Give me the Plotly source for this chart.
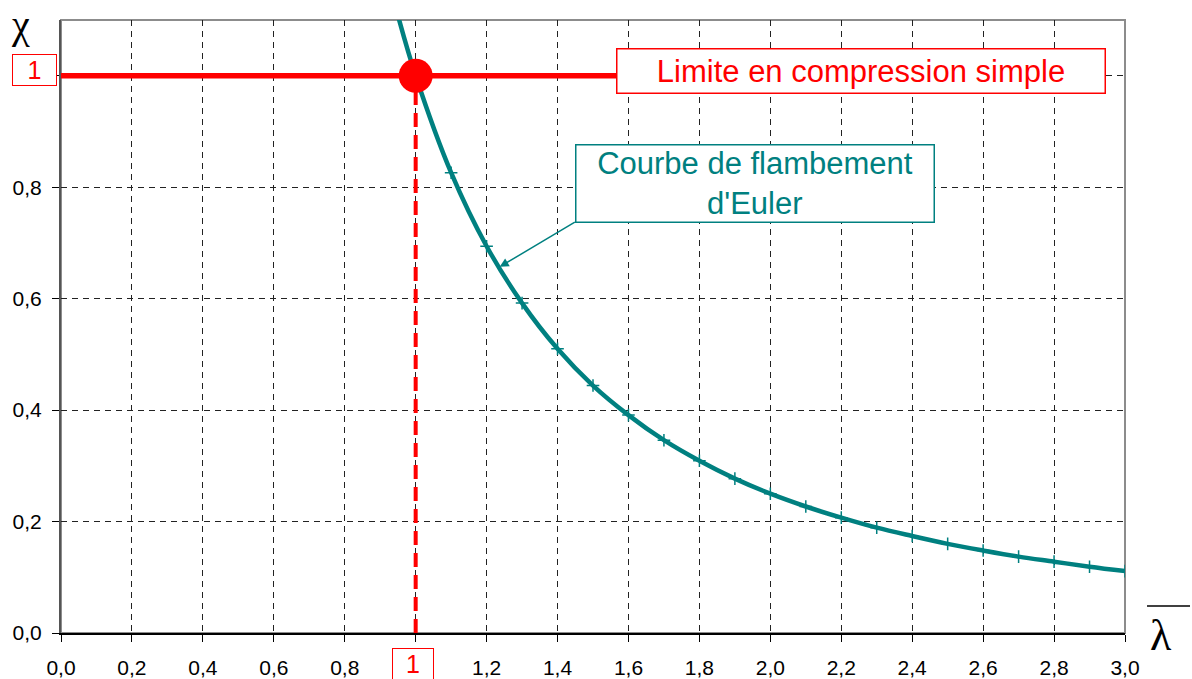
import plotly.graph_objects as go

# ---- data ----
lam_curve = [0.95, 1.0, 1.1, 1.2, 1.3, 1.4, 1.5, 1.6, 1.7, 1.8, 1.9, 2.0,
             2.1, 2.2, 2.3, 2.4, 2.5, 2.6, 2.7, 2.8, 2.9, 3.0]
chi_curve = [1.108, 1.0, 0.826, 0.694, 0.592, 0.510, 0.444, 0.391, 0.346, 0.309,
             0.277, 0.250, 0.227, 0.207, 0.189, 0.174, 0.160, 0.148, 0.137, 0.128,
             0.119, 0.111]

limit_x = [0.0, 1.6]
limit_y = [1.0, 1.0]
vert_x = [1.0, 1.0]
vert_y = [0.0, 1.0]
point_x = [1.0]
point_y = [1.0]

x_tickvals = [0.0, 0.2, 0.4, 0.6, 0.8, 1.0, 1.2, 1.4, 1.6, 1.8, 2.0, 2.2, 2.4, 2.6, 2.8, 3.0]
x_ticktext = ["0,0", "0,2", "0,4", "0,6", "0,8", "", "1,2", "1,4", "1,6", "1,8",
              "2,0", "2,2", "2,4", "2,6", "2,8", "3,0"]
y_tickvals = [0.0, 0.2, 0.4, 0.6, 0.8, 1.0]
y_ticktext = ["0,0", "0,2", "0,4", "0,6", "0,8", ""]

TEAL = "#008080"
RED = "#FF0000"
SANS = "Liberation Sans, Arial, sans-serif"
SERIF = "Liberation Serif, Times New Roman, serif"

fig = go.Figure()

# Euler buckling curve
fig.add_trace(go.Scatter(
    x=lam_curve, y=chi_curve, mode="lines+markers",
    line=dict(color=TEAL, width=4.5, shape="spline", smoothing=1.0),
    marker=dict(symbol="cross-thin", size=9, line=dict(color=TEAL, width=1.5)),
    hoverinfo="skip", showlegend=False))

# compression limit line
fig.add_trace(go.Scatter(
    x=limit_x, y=limit_y, mode="lines",
    line=dict(color=RED, width=5.5),
    hoverinfo="skip", showlegend=False))

# vertical dashed line at lambda = 1
fig.add_trace(go.Scatter(
    x=vert_x, y=vert_y, mode="lines",
    line=dict(color=RED, width=4, dash="14px,8px"),
    hoverinfo="skip", showlegend=False))

# intersection point
fig.add_trace(go.Scatter(
    x=point_x, y=point_y, mode="markers",
    marker=dict(color=RED, size=34, symbol="circle"),
    cliponaxis=False, hoverinfo="skip", showlegend=False))

grid = dict(showgrid=True, gridcolor="#222222", gridwidth=1, griddash="6px,5px")

fig.update_xaxes(
    range=[0, 3.0], tickvals=x_tickvals, ticktext=x_ticktext,
    ticks="outside", ticklen=7, tickcolor="#000000", tickwidth=1,
    ticklabelstandoff=8, automargin=False,
    showline=True, linecolor="#000000", linewidth=1.5,
    tickfont=dict(family=SANS, size=21, color="#000000"),
    zeroline=False, **grid)
fig.update_yaxes(
    range=[0, 1.1], tickvals=y_tickvals, ticktext=y_ticktext,
    ticks="outside", ticklen=7, tickcolor="#000000", tickwidth=1,
    ticklabelstandoff=6, automargin=False,
    showline=True, linecolor="#555555", linewidth=2,
    tickfont=dict(family=SANS, size=21, color="#000000"),
    zeroline=False, **grid)

# frame (top / right)
fig.add_shape(type="rect", xref="paper", yref="paper", x0=0, x1=1, y0=0, y1=1,
              line=dict(color="#8c8c8c", width=2), layer="below")
# overline on lambda
fig.add_shape(type="line", xref="paper", yref="paper",
              x0=1.0207, x1=1.0611, y0=0.044, y1=0.044,
              line=dict(color="#000000", width=1.5))

annotations = [
    dict(text="Limite en compression simple", x=2.257, y=1.009, xref="x", yref="y",
         showarrow=False, font=dict(family=SANS, size=31, color=RED),
         bgcolor="#FFFFFF", bordercolor=RED, borderwidth=1.5, borderpad=1,
         width=485, height=41, xanchor="center", yanchor="middle"),
    dict(text="Courbe de flambement<br>d'Euler", x=1.958, y=0.8075, xref="x", yref="y",
         showarrow=False, font=dict(family=SANS, size=31, color=TEAL),
         bgcolor="#FFFFFF", bordercolor=TEAL, borderwidth=1.5, borderpad=1,
         width=355, height=74, xanchor="center", yanchor="middle"),
    dict(text="", x=1.237, y=0.657, xref="x", yref="y",
         ax=1.453, ay=0.739, axref="x", ayref="y",
         showarrow=True, arrowhead=2, arrowsize=1.2, arrowwidth=1.5, arrowcolor=TEAL),
    dict(text="1", x=-0.0249, y=1.011, xref="paper", yref="y",
         showarrow=False, font=dict(family=SANS, size=25, color=RED),
         bgcolor="#FFFFFF", bordercolor=RED, borderwidth=1, borderpad=1,
         width=41, height=28, xanchor="center", yanchor="middle"),
    dict(text="1", x=0.992, y=-0.0498, xref="x", yref="paper",
         showarrow=False, font=dict(family=SANS, size=25, color=RED),
         bgcolor="#FFFFFF", bordercolor=RED, borderwidth=1, borderpad=1,
         width=38, height=28, xanchor="center", yanchor="middle"),
    dict(text="χ", x=-0.0376, y=1.0326, xref="paper", yref="paper",
         showarrow=False, font=dict(family=SERIF, size=40, color="#000000"),
         xanchor="center", yanchor="top"),
    dict(text="λ", x=1.0338, y=-0.0033, xref="paper", yref="paper",
         showarrow=False, font=dict(family=SERIF, size=44, color="#000000"),
         xanchor="center", yanchor="middle"),
]

fig.update_layout(
    width=1192, height=679, autosize=False,
    margin=dict(l=61, r=67, t=20, b=46, pad=0),
    plot_bgcolor="#FFFFFF", paper_bgcolor="#FFFFFF",
    separators=", ",
    annotations=annotations,
    showlegend=False,
)

fig.write_html("out.html")
